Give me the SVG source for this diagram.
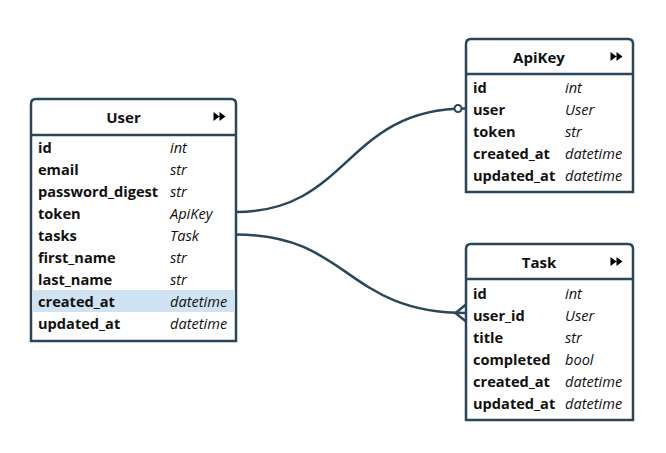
<svg xmlns="http://www.w3.org/2000/svg" width="666" height="453" viewBox="0 0 666 453">
<style>
.box{fill:#ffffff;stroke:#29465b;stroke-width:2.5}
.hl{stroke:#29465b;stroke-width:2.5}
.title{font-family:"Open Sans","Noto Sans",sans-serif;font-size:15px;font-weight:bold;fill:#111;text-anchor:middle}
.n{font-family:"Open Sans","Noto Sans",sans-serif;font-size:14.6px;font-weight:bold;fill:#111}
.t{font-family:"Open Sans","Noto Sans",sans-serif;font-size:14.6px;font-style:italic;fill:#111}
.icon{fill:#000}
.conn{fill:none;stroke:#29465b;stroke-width:2.5}
.sel{fill:#d0e3f2}
</style>
<rect width="666" height="453" fill="#ffffff"/>
<g id="connectors">
<path class="conn" d="M236,212 C350,212 345,108.5 466,108.5"/>
<circle cx="458" cy="108.5" r="3.5" fill="#ffffff" stroke="#29465b" stroke-width="2"/>
<path class="conn" d="M236,234.5 C350,234.5 345,313 466,313"/>
<path class="conn" d="M466,304.5 L455.5,313 L466,321.5"/>
</g>
<g id="User">
<path class="box" d="M31,341 L31,104 Q31,99 36,99 L231,99 Q236,99 236,104 L236,341 Z"/>
<rect class="sel" x="32.3" y="290" width="202.4" height="22"/>
<line class="hl" x1="31" y1="135" x2="236" y2="135"/>
<text class="title" x="123.5" y="123">User</text>
<path class="icon" d="M213.5,112 L213.5,121 L219.5,116.5 Z M219.5,112 L219.5,121 L225.5,116.5 Z"/>
<text class="n" x="38" y="152.5">id</text><text class="t" x="170" y="152.5">int</text>
<text class="n" x="38" y="174.5">email</text><text class="t" x="170" y="174.5">str</text>
<text class="n" x="38" y="196.5">password_digest</text><text class="t" x="170" y="196.5">str</text>
<text class="n" x="38" y="218.5">token</text><text class="t" x="170" y="218.5">ApiKey</text>
<text class="n" x="38" y="240.5">tasks</text><text class="t" x="170" y="240.5">Task</text>
<text class="n" x="38" y="262.5">first_name</text><text class="t" x="170" y="262.5">str</text>
<text class="n" x="38" y="284.5">last_name</text><text class="t" x="170" y="284.5">str</text>
<text class="n" x="38" y="306.5">created_at</text><text class="t" x="170" y="306.5">datetime</text>
<text class="n" x="38" y="328.5">updated_at</text><text class="t" x="170" y="328.5">datetime</text>
</g>
<g id="ApiKey">
<path class="box" d="M466,192 L466,44 Q466,39 471,39 L628,39 Q633,39 633,44 L633,192 Z"/>
<line class="hl" x1="466" y1="74" x2="633" y2="74"/>
<text class="title" x="539" y="63">ApiKey</text>
<path class="icon" d="M610.5,52 L610.5,61 L616.5,56.5 Z M616.5,52 L616.5,61 L622.5,56.5 Z"/>
<text class="n" x="473" y="92.5">id</text><text class="t" x="565" y="92.5">int</text>
<text class="n" x="473" y="114.5">user</text><text class="t" x="565" y="114.5">User</text>
<text class="n" x="473" y="136.5">token</text><text class="t" x="565" y="136.5">str</text>
<text class="n" x="473" y="158.5">created_at</text><text class="t" x="565" y="158.5">datetime</text>
<text class="n" x="473" y="180.5">updated_at</text><text class="t" x="565" y="180.5">datetime</text>
</g>
<g id="Task">
<path class="box" d="M466,420 L466,249 Q466,244 471,244 L628,244 Q633,244 633,249 L633,420 Z"/>
<line class="hl" x1="466" y1="279" x2="633" y2="279"/>
<text class="title" x="539" y="268">Task</text>
<path class="icon" d="M610.5,257 L610.5,266 L616.5,261.5 Z M616.5,257 L616.5,266 L622.5,261.5 Z"/>
<text class="n" x="473" y="298.5">id</text><text class="t" x="565" y="298.5">int</text>
<text class="n" x="473" y="320.5">user_id</text><text class="t" x="565" y="320.5">User</text>
<text class="n" x="473" y="342.5">title</text><text class="t" x="565" y="342.5">str</text>
<text class="n" x="473" y="364.5">completed</text><text class="t" x="565" y="364.5">bool</text>
<text class="n" x="473" y="386.5">created_at</text><text class="t" x="565" y="386.5">datetime</text>
<text class="n" x="473" y="408.5">updated_at</text><text class="t" x="565" y="408.5">datetime</text>
</g>
</svg>
